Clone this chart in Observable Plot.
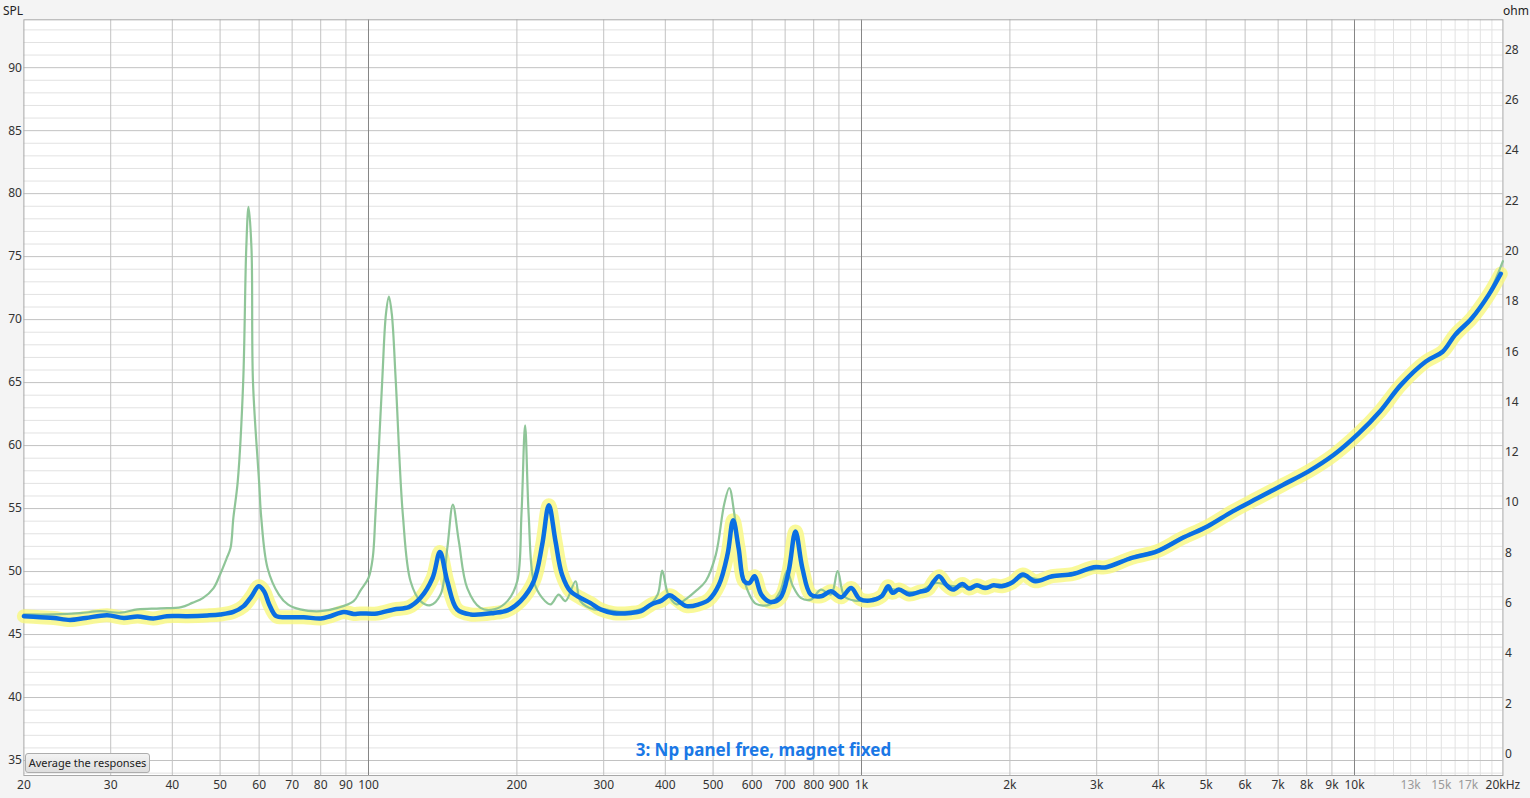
<!DOCTYPE html>
<html><head><meta charset="utf-8">
<script src="https://cdn.jsdelivr.net/npm/d3@7"></script>
<script src="https://cdn.jsdelivr.net/npm/@observablehq/plot@0.6"></script>
<style>
html,body{margin:0;padding:0;background:#f4f4f4;overflow:hidden;}
#wrap{position:relative;width:1530px;height:798px;font-family:"Noto Sans",sans-serif;}
#btn{position:absolute;left:25px;top:753px;width:125px;height:20px;box-sizing:border-box;border:1px solid #adadad;border-radius:3px;background:linear-gradient(#f3f3f3,#dedede);font:11px "Noto Sans",sans-serif;color:#222;line-height:18px;text-align:center;white-space:nowrap;}
</style></head><body><div id="wrap"></div>
<script>
// ---- data (frequency in Hz, impedance in ohm) ----
const blueHz = [20,21.6,23,24.8,26.7,29.5,31.9,34,36.6,39,42.9,47.1,50,53.2,55.8,57.9,59.9,61.4,62.9,65,68.6,73.9,80,83.7,89.1,93.3,96.3,104.1,112.6,120.7,127.5,134.9,139.6,144.5,151.3,161.1,179.8,191.3,203.4,216.4,225.1,232.2,239.5,246.9,256.9,269.2,281.7,295.6,314.5,340.6,357.1,374.6,392.8,408.6,421.7,442.3,467.5,490.4,514.1,534.8,549.2,563.3,578.3,592.4,606.6,626.4,652.2,684.1,711.5,734.6,758.6,789.2,827.5,867.3,909.1,952.9,991.1,1039,1098,1133,1156,1191,1250,1311,1363,1402,1437,1484,1534,1603,1652,1715,1782,1853,1926,2025,2125,2252,2436,2684,2958,3137,3533,3975,4475,5028,5660,6369,7168,8067,9080,10210,11258,12421,13955,15093,16002,17296,18713,19800];
const blueOhm = [5.48,5.44,5.41,5.33,5.41,5.52,5.41,5.47,5.39,5.48,5.48,5.51,5.55,5.65,5.88,6.27,6.67,6.47,5.95,5.48,5.44,5.44,5.39,5.48,5.65,5.57,5.59,5.59,5.75,5.84,6.21,7.0,8.03,6.87,5.75,5.55,5.61,5.71,6.08,6.87,8.33,9.89,8.46,7.14,6.47,6.21,6.01,5.75,5.6,5.61,5.68,5.95,6.10,6.31,6.14,5.88,5.95,6.14,6.74,7.93,9.3,8.19,6.87,6.80,7.07,6.34,6.05,6.21,7.27,8.85,7.40,6.34,6.27,6.47,6.23,6.60,6.17,6.10,6.27,6.67,6.41,6.54,6.34,6.45,6.54,6.87,7.07,6.74,6.54,6.76,6.58,6.71,6.60,6.71,6.67,6.83,7.14,6.87,7.07,7.16,7.43,7.43,7.80,8.06,8.59,9.05,9.65,10.18,10.71,11.24,11.90,12.76,13.62,14.68,15.61,16.0,16.67,17.33,18.26,19.1];
const greenHz = [20,23,26,28.6,31.4,34,37.8,41.7,43.9,46.2,48.5,50,51.6,52.5,53.2,54.3,55.7,56.5,57.1,57.9,58.3,60,60.6,62.4,65.8,68.6,72.7,80,86.6,93.3,96.3,100,102,103.3,106.6,108.5,110,111.5,113.6,117.4,121.7,127.5,133.6,140,144.5,148.3,152.5,158.6,168.7,179.8,191.3,200.3,204.3,207.8,211.3,216.4,225.1,234,243.1,250.9,263,269,286.6,300,330,368.6,386,394.3,405.5,421.7,438.8,460.3,482.9,506.5,526.5,539.3,552.4,570.3,592.4,611.1,652.2,684,705.9,726,752.8,789.2,827.5,867.3,894.7,923.4,967.7,1039,1098,1140,1200,1300,1420,1500,1650,1800,2000,2125,2300,2684,3137,3533,3975,4475,5028,5660,6369,7168,8067,9080,10210,11258,12421,13955,15093,16002,17296,18713,20000];
const greenOhm = [5.55,5.55,5.6,5.68,5.62,5.75,5.79,5.84,6.01,6.21,6.6,7.14,7.8,8.19,9.39,10.84,14.81,20.1,21.76,20.1,14.81,10.8,9.4,7.4,6.34,5.95,5.75,5.68,5.81,6.08,6.5,7.0,7.8,9.52,14.81,17.5,18.19,17.5,14.81,9.52,6.87,6.08,5.92,6.34,8.19,9.92,8.46,6.6,5.81,5.75,6.08,6.87,9.52,13.07,9.52,6.87,6.21,5.95,6.34,6.08,6.87,6.08,5.75,5.75,5.65,5.88,6.34,7.29,6.34,5.95,6.14,6.47,6.87,7.93,9.92,10.58,9.52,7.40,6.34,5.97,5.95,6.47,7.27,6.67,6.21,6.14,6.54,6.34,7.27,6.27,6.10,6.14,6.3,6.55,6.5,6.45,6.8,6.7,6.65,6.68,6.8,7.05,6.95,7.2,7.45,7.83,8.1,8.63,9.08,9.67,10.2,10.72,11.25,11.9,12.75,13.6,14.65,15.6,16.05,16.7,17.35,18.3,19.6];
const splTicks = [35,40,45,50,55,60,65,70,75,80,85,90];
const ohmTicks = [0,2,4,6,8,10,12,14,16,18,20,22,24,26,28];
const freqTicks = [20,30,40,50,60,70,80,90,100,200,300,400,500,600,700,800,900,1000,2000,3000,4000,5000,6000,7000,8000,9000,10000,20000];
const freqTicksLight = [13000,15000,17000];
const gridDecade = [100,1000,10000];
const gridMain = [30,40,50,60,70,80,90,200,300,400,500,600,700,800,900,2000,3000,4000,5000,6000,7000,8000,9000];
const gridLight = [11000,12000,13000,14000,15000,16000,17000,18000,19000];
const titleText = "3: Np panel free, magnet fixed";

// left (SPL) axis expressed in the ohm scale of the right axis
const splToOhm = s => 0.501 * s - 17.794;
const splMinor = d3.range(34, 94).filter(v => v % 5 !== 0);

const blue = blueHz.map((f, i) => ({f, z: blueOhm[i]}));
const green = greenHz.map((f, i) => ({f, z: greenOhm[i]}));
const fmt = f => f === 20000 ? "20kHz" : f >= 1000 ? (f / 1000) + "k" : String(f);
const font = '"Noto Sans", sans-serif';

const chart = Plot.plot({
  width: 1530, height: 798,
  marginLeft: 23.4, marginRight: 27.6, marginTop: 19.3, marginBottom: 23,
  style: {background: "transparent", fontFamily: font, fontSize: "12px", color: "#333"},
  x: {type: "log", domain: [20, 20000], axis: null},
  y: {domain: [-0.855, 29.2], axis: null},
  marks: [
    Plot.frame({fill: "white", stroke: null}),
    Plot.ruleY(splMinor.map(splToOhm), {stroke: "#e2e2e2", strokeWidth: 1}),
    Plot.ruleX(gridLight, {stroke: "#e2e2e2", strokeWidth: 1}),
    Plot.ruleY(splTicks.map(splToOhm), {stroke: "#c2c2c2", strokeWidth: 1}),
    Plot.ruleX(gridMain, {stroke: "#c2c2c2", strokeWidth: 1}),
    Plot.ruleX(gridDecade, {stroke: "#858585", strokeWidth: 1}),
    Plot.frame({stroke: "#a8a8a8"}),
    Plot.line(blue, {x: "f", y: "z", curve: "catmull-rom", stroke: "#f8f880", strokeOpacity: 0.8, strokeWidth: 14}),
    Plot.line(green, {x: "f", y: "z", curve: "catmull-rom", stroke: "#89c292", strokeOpacity: 0.95, strokeWidth: 2.2}),
    Plot.line(blue, {x: "f", y: "z", curve: "catmull-rom", stroke: "#0a6fe3", strokeWidth: 4.5}),
    Plot.text(freqTicks, {x: d => d, frameAnchor: "bottom", dy: 13, text: fmt, fill: "#333", fontSize: 12}),
    Plot.text(freqTicksLight, {x: d => d, frameAnchor: "bottom", dy: 13, text: fmt, fill: "#9a9a9a", fontSize: 12}),
    Plot.text(splTicks, {y: d => splToOhm(d), frameAnchor: "left", dx: -2, textAnchor: "end", text: d => String(d), fill: "#333", fontSize: 12}),
    Plot.text(ohmTicks, {y: d => d, frameAnchor: "right", dx: 2, textAnchor: "start", text: d => String(d), fill: "#333", fontSize: 12}),
    Plot.text(["SPL"], {frameAnchor: "top-left", dx: -21, dy: -13, textAnchor: "start", fill: "#222", fontSize: 12}),
    Plot.text(["ohm"], {frameAnchor: "top-right", dx: 26, dy: -13, textAnchor: "end", fill: "#222", fontSize: 12}),
    Plot.text([titleText], {frameAnchor: "bottom", dy: -20, fill: "#1a78e6", fontWeight: "bold", fontSize: 17})
  ]
});
const wrap = document.getElementById("wrap");
wrap.appendChild(chart);
const btn = document.createElement("div");
btn.id = "btn";
btn.textContent = "Average the responses";
wrap.appendChild(btn);
</script>
</body></html>
